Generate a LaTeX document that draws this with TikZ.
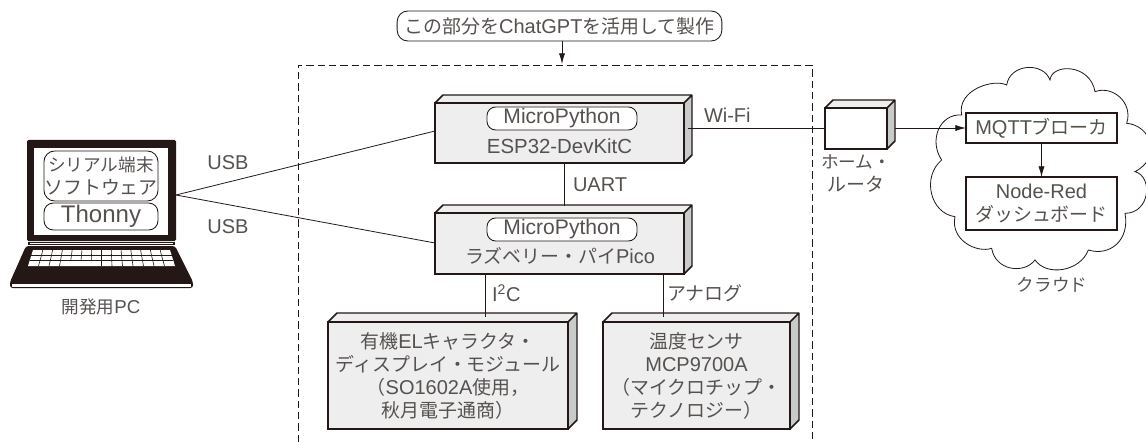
\documentclass[tikz,border=0pt]{standalone}
\usepackage{fontspec}
\setmainfont{Noto Sans CJK JP}
\newfontfamily\latfont{Liberation Sans}
\newcommand{\la}[2][15]{{\latfont\fontsize{#1}{17.25}\selectfont #2}}
\usetikzlibrary{arrows.meta,calc}
\definecolor{ink}{HTML}{231815}
\definecolor{txt}{HTML}{55514F}
\definecolor{face}{HTML}{EEEEEE}
\definecolor{sidef}{HTML}{C9CBCB}
\tikzset{
  x=0.75pt,y=-0.75pt,
  every node/.style={text=txt,font=\fontsize{14.2}{17.25}\selectfont,inner sep=0pt,outer sep=0pt},
  link/.style={draw=ink,line width=0.6pt},
  arrowlink/.style={link,-{Latex[length=8pt,width=4.6pt]}},
  pill/.style={draw=ink,line width=0.65pt,rounded corners=6.5pt,fill=white,align=center},
  frontbox/.style={draw=ink,line width=1.3pt,align=center},
  keyline/.style={draw=ink,line width=0.45pt},
}
\newcommand{\threedbox}[8]{%
  \fill[face] (#2,#3)--++(#6,-#6)--(#4+#6,#3-#6)--(#4,#3)--cycle;
  \fill[sidef] (#4,#3)--++(#6,-#6)--(#4+#6,#5-#6)--(#4,#5)--cycle;
  \draw[ink,line width=1.1pt,line join=round] (#2,#3)--++(#6,-#6)--(#4+#6,#3-#6)--(#4+#6,#5-#6)--(#4,#5) (#4,#3)--(#4+#6,#3-#6);
  \node[frontbox,fill=#7,minimum width=#4*0.75pt-#2*0.75pt,minimum height=#5*0.75pt-#3*0.75pt] (#1) at ({(#2+#4)/2},{(#3+#5)/2}) {#8};
}
\begin{document}
\begin{tikzpicture}
\useasboundingbox (0,0) rectangle (1146,442);
% dashed region
\draw[ink,line width=0.6pt,dash pattern=on 5.5pt off 3pt] (298,442)--(298,65)--(812,65)--(812,442);
% caption
\node[pill,minimum width=243.5pt,minimum height=22.5pt,rounded corners=8pt] (cap) at (559.5,26) {この部分を\la{ChatGPT}を活用して製作};
\coordinate (capin) at (cap.south -| 562,0);
\coordinate (dashtop) at (562,64);
\draw[arrowlink] (capin)--(dashtop);
% laptop
\fill[ink,rounded corners=1pt] (27,140) rectangle (176,241);
\node[fill=white,minimum width=100.5pt,minimum height=65.25pt] (screen) at (101,191.5) {};
\draw[ink,line width=1pt,fill=white] (29,242.5) rectangle (174,244.5);
\fill[ink,rounded corners=2pt] (26,246)--(175,246)--(193,282)--(193,288)--(10,288)--(10,282)--cycle;
\fill[white] (12,283.5) rectangle (191,286.5);
\fill[white] (33,250)--(170,250)--(175,266)--(28,266)--cycle;
\foreach \r/\xa/\xb in {255.4/31.4/171.6,260.7/29.7/173.3}
  \draw[keyline] (\xa,\r)--(\xb,\r);
\foreach \i in {1,...,13}{
  \draw[keyline] ({33+\i*137/14},250)--({31.5+\i*140/14},255.4)--({29.7+\i*143.6/14},260.7);
}
\foreach \i in {1,2,3,7,8,9,10,11,12,13}{
  \draw[keyline] ({29.7+\i*143.6/14},260.7)--({28+\i*147/14},266);
}
\node[pill,minimum width=85.5pt,minimum height=37.5pt,rounded corners=8pt] (soft) at (101,176) {\fontsize{13.2}{16.5}\selectfont シリアル端末\\ソフトウェア};
\node[pill,minimum width=85.5pt,minimum height=20.25pt,rounded corners=7pt] (thonny) at (101,216.5) {\la[18]{Thonny}};
\node (pclabel) at (101,307) {\fontsize{13.2}{16}\selectfont 開発用\la[14]{PC}};
\coordinate (pcout) at (176,195);
% 3d boxes
\threedbox{esp}{435}{103}{684}{163}{8}{face}{}
\threedbox{pico}{435}{213}{684}{274}{8}{face}{}
\threedbox{oled}{328}{322}{568}{429}{9}{face}{有機\la{EL}キャラクタ・\\ディスプレイ・モジュール\\（\la{SO1602A}使用，\\秋月電子通商）}
\threedbox{temp}{603}{322}{790}{429}{9}{face}{温度センサ\\\la{MCP9700A}\\（マイクロチップ・\\テクノロジー）}
\threedbox{router}{825}{108}{887}{149}{8}{white}{}
\node[pill,minimum width=112.5pt,minimum height=17.25pt] (mpesp) at (562,118.5) {\la[15.8]{MicroPython}};
\node (esplabel) at (559.5,146) {\la[15.3]{ESP32-DevKitC}};
\node[pill,minimum width=112.5pt,minimum height=17.25pt] (mppico) at (562,229.5) {\la[15.8]{MicroPython}};
\node (picolabel) at (560,256) {ラズベリー・パイ\la{Pico}};
% cloud
\begin{scope}[shift={(780,0)},x=0.25pt,y=-0.25pt]
\draw[ink,line width=0.6pt,fill=white] (810,240)
 .. controls (815,190) and (930,190) .. (945,275)
 .. controls (1000,255) and (1060,310) .. (1040,370)
 .. controls (1110,375) and (1150,470) .. (1065,515)
 .. controls (1120,530) and (1110,640) .. (1035,640)
 .. controls (1050,720) and (990,770) .. (925,750)
 .. controls (900,815) and (800,830) .. (765,780)
 .. controls (730,825) and (645,810) .. (635,745)
 .. controls (590,760) and (510,720) .. (525,650)
 .. controls (450,640) and (425,530) .. (485,480)
 .. controls (445,420) and (480,340) .. (545,345)
 .. controls (530,270) and (640,235) .. (680,255)
 .. controls (690,190) and (790,185) .. (810,240) -- cycle;
\end{scope}
\node[frontbox,fill=white,minimum width=113.25pt,minimum height=22.5pt] (mqtt) at (1041.5,128) {\la{MQTT}ブローカ};
\node[frontbox,fill=white,line width=1.1pt,minimum width=113.25pt,minimum height=39.75pt] (nodered) at (1041.5,203.5) {\la{Node-Red}\\ダッシュボード};
\node (cloudlabel) at (1052,285) {\fontsize{13.2}{16}\selectfont クラウド};
\node (routerlabel) at (856,174) [align=center] {\fontsize{13.2}{16.5}\selectfont ホーム・\\ルータ};
% connector end points
\coordinate (espleft) at (435,131);
\coordinate (picoleft) at (435,243);
\coordinate (espout) at (688,128);
\coordinate (routerout) at (895,128);
\coordinate (uartA) at (564,163);
\coordinate (uartB) at (564,206);
\coordinate (i2cA) at (485,274);
\coordinate (i2cB) at (485,317);
\coordinate (anaA) at (663,274);
\coordinate (anaB) at (663,317);
\draw[link] (pcout)--(espleft);
\draw[link] (pcout)--(picoleft);
\draw[link] (espout)--(router.west |- espout);
\draw[arrowlink] (routerout)--(mqtt.west);
\draw[link] (uartA)--(uartB);
\draw[link] (i2cA)--(i2cB);
\draw[link] (anaA)--(anaB);
\draw[arrowlink] (mqtt.south)--(nodered.north);
% labels
\node (usb1) at (228,163) {\la{USB}};
\node (usb2) at (228,227) {\la{USB}};
\node[anchor=west] (wifi) at (704,115) {\la{Wi-Fi}};
\node[anchor=west] (uart) at (573,185) {\la{UART}};
\node[anchor=west] (i2c) at (492,293) {\la{I\textsuperscript{2}C}};
\node[anchor=west] (ana) at (667,293) {アナログ};
\end{tikzpicture}
\end{document}
